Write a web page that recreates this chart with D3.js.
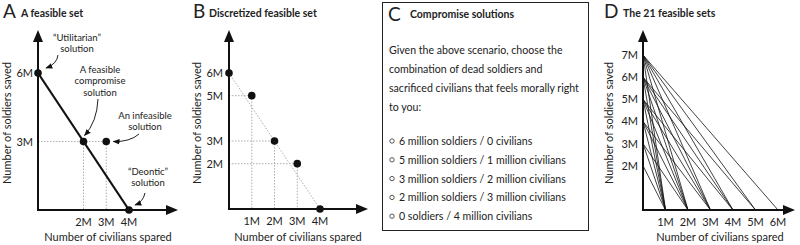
<!DOCTYPE html>
<html><head><meta charset="utf-8">
<script src="https://cdn.jsdelivr.net/npm/d3@7"></script>
<style>
body{margin:0;background:#fff;}
svg text{font-family:Lato,"Open Sans",sans-serif;fill:#222;}
</style></head>
<body><svg id="c" width="800" height="245"></svg>
<script>
// ---- data ----
const panelLetters = ["A","B","C","D"];
const panelTitles = ["A feasible set","Discretized feasible set","Compromise solutions","The 21 feasible sets"];
const xTitle = "Number of civilians spared";
const yTitle = "Number of soldiers saved";
// Panel A: points [civilians, soldiers] in millions
const aFeasibleLine = [[0,6],[4,0]];
const aPoints = [[0,6],[2,3],[3,3],[4,0]];
const aXTicks = [2,3,4];
const aYTicks = [3,6];
const aNotes = [
  {lines:["\u201CUtilitarian\u201D","solution"]},
  {lines:["A feasible","compromise","solution"]},
  {lines:["An infeasible","solution"]},
  {lines:["\u201CDeontic\u201D","solution"]}
];
// Panel B
const bPoints = [[0,6],[1,5],[2,3],[3,2],[4,0]];
const bXTicks = [1,2,3,4];
const bYTicks = [2,3,5,6];
// Panel C
const cIntro = ["Given the above scenario, choose the","combination of dead soldiers and","sacrificed civilians that feels morally right","to you:"];
const cOptions = ["6 million soldiers / 0 civilians","5 million soldiers / 1 million civilians","3 million soldiers / 2 million civilians","2 million soldiers / 3 million civilians","0 soldiers / 4 million civilians"];
// Panel D: soldier intercepts and civilian intercepts (civilians < soldiers)
const dSoldiers = [2,3,4,5,6,7];
const dCivilians = [1,2,3,4,5,6];
const dXTicks = [1,2,3,4,5,6];
const dYTicks = [2,3,4,5,6,7];

const svg = d3.select("#c");
const fmt = d => d + "M";

function arrowAxes(g, x, y, xTip, yTip){
  const x0 = x.range()[0], y0 = y.range()[0];
  g.append("line").attr("x1",x0).attr("y1",y0+1).attr("x2",x0).attr("y2",yTip+8)
    .attr("stroke","#111").attr("stroke-width",2);
  g.append("line").attr("x1",x0-1).attr("y1",y0).attr("x2",xTip-8).attr("y2",y0)
    .attr("stroke","#111").attr("stroke-width",2);
  g.append("path").attr("d",`M${x0},${yTip} L${x0-5},${yTip+12} L${x0+5},${yTip+12}Z`).attr("fill","#111");
  g.append("path").attr("d",`M${xTip},${y0} L${xTip-12},${y0-5} L${xTip-12},${y0+5}Z`).attr("fill","#111");
}
function ticks(g, x, y, xt, yt, yEnd){
  const y0 = y.range()[0], x0 = x.range()[0];
  g.append("g").selectAll("text").data(xt).join("text")
    .attr("x",d=>x(d)).attr("y",y0+16).attr("text-anchor","middle").attr("font-size",11).text(fmt);
  g.append("g").selectAll("text").data(yt).join("text")
    .attr("x",yEnd).attr("y",d=>y(d)+4).attr("text-anchor","end").attr("font-size",11).text(fmt);
}
function titles(g, cx, cy, yx, yy){
  g.append("text").attr("x",cx).attr("y",cy).attr("text-anchor","middle").attr("font-size",11).text(xTitle);
  g.append("text").attr("transform",`translate(${yx},${yy}) rotate(-90)`).attr("text-anchor","middle").attr("font-size",11).text(yTitle);
}
function header(g, letter, title, lx, tx){
  g.append("text").attr("x",lx).attr("y",18).attr("font-size",19).attr("font-family","'Open Sans',sans-serif").text(letter);
  g.append("text").attr("x",tx).attr("y",17).attr("font-size",10.5).attr("font-weight","bold").text(title);
}
svg.append("defs").append("marker").attr("id","ah").attr("viewBox","0 0 10 10").attr("refX",9).attr("refY",5)
  .attr("markerWidth",7).attr("markerHeight",7).attr("orient","auto-start-reverse")
  .append("path").attr("d","M0,1 L10,5 L0,9Z").attr("fill","#111");

// ---- Panel A ----
{
  const g = svg.append("g");
  const x = d3.scaleLinear().domain([0,4]).range([38,129]);
  const y = d3.scaleLinear().domain([0,6]).range([210,73]);
  header(g, panelLetters[0], panelTitles[0], 3, 21);
  // guides
  const comp = aPoints[1], inf = aPoints[2];
  const gd = g.append("g").attr("stroke","#999").attr("stroke-width",0.8).attr("stroke-dasharray","1.5,1.5");
  gd.append("line").attr("x1",x(0)).attr("x2",x(inf[0])).attr("y1",y(comp[1])).attr("y2",y(comp[1]));
  gd.append("line").attr("x1",x(comp[0])).attr("x2",x(comp[0])).attr("y1",y(comp[1])).attr("y2",y(0));
  gd.append("line").attr("x1",x(inf[0])).attr("x2",x(inf[0])).attr("y1",y(inf[1])).attr("y2",y(0));
  arrowAxes(g, x, y, 178, 30);
  g.append("path").datum(aFeasibleLine).attr("d",d3.line().x(d=>x(d[0])).y(d=>y(d[1])))
    .attr("stroke","#111").attr("stroke-width",2.2).attr("fill","none");
  g.append("g").selectAll("circle").data(aPoints).join("circle")
    .attr("cx",d=>x(d[0])).attr("cy",d=>y(d[1])).attr("r",3.8).attr("fill","#111");
  ticks(g, x, y, aXTicks, aYTicks, 33);
  titles(g, 108, 241, 11, 123);
  // annotations
  const notePos = [[77,41],[100,73],[145,119],[148,175]];
  aNotes.forEach((n,i)=>{
    g.append("g").selectAll("text").data(n.lines).join("text")
      .attr("x",notePos[i][0]).attr("y",(d,j)=>notePos[i][1]+j*11.3)
      .attr("text-anchor","middle").attr("font-size",9.5).attr("fill","#333").text(d=>d);
  });
  const arrows = [
    `M58,55 Q57,64 ${x(0)+8},${y(6)-5}`,
    `M98,99 Q97,122 ${x(2)+1},${y(3)-6}`,
    `M139,134 Q130,142 ${x(3)+7},${y(3)}`,
    `M145,193 Q143,202 ${x(4)+6},${y(0)-5}`
  ];
  g.append("g").selectAll("path").data(arrows).join("path").attr("d",d=>d)
    .attr("fill","none").attr("stroke","#222").attr("stroke-width",1).attr("marker-end","url(#ah)");
}
// ---- Panel B ----
{
  const g = svg.append("g");
  const x = d3.scaleLinear().domain([0,4]).range([229,320]);
  const y = d3.scaleLinear().domain([0,6]).range([209,73]);
  header(g, panelLetters[1], panelTitles[1], 193, 209);
  const gd = g.append("g").attr("stroke","#999").attr("stroke-width",0.8).attr("stroke-dasharray","1.5,1.5");
  gd.append("line").attr("x1",x(bPoints[0][0])).attr("y1",y(bPoints[0][1]))
    .attr("x2",x(bPoints[bPoints.length-1][0])).attr("y2",y(bPoints[bPoints.length-1][1]));
  bPoints.slice(1,-1).forEach(p=>{
    gd.append("line").attr("x1",x(0)).attr("x2",x(p[0])).attr("y1",y(p[1])).attr("y2",y(p[1]));
    gd.append("line").attr("x1",x(p[0])).attr("x2",x(p[0])).attr("y1",y(p[1])).attr("y2",y(0));
  });
  arrowAxes(g, x, y, 368, 30);
  g.append("g").selectAll("circle").data(bPoints).join("circle")
    .attr("cx",d=>x(d[0])).attr("cy",d=>y(d[1])).attr("r",3.8).attr("fill","#111");
  ticks(g, x, y, bXTicks, bYTicks, 223);
  titles(g, 298, 241, 201, 123);
}
// ---- Panel C ----
{
  const g = svg.append("g");
  g.append("rect").attr("x",382.5).attr("y",2.5).attr("width",206).attr("height",228)
    .attr("fill","none").attr("stroke","#222").attr("stroke-width",1);
  g.append("text").attr("x",388).attr("y",21).attr("font-size",19).attr("font-family","'Open Sans',sans-serif").text(panelLetters[2]);
  g.append("text").attr("x",410).attr("y",18).attr("font-size",10.5).attr("font-weight","bold").text(panelTitles[2]);
  g.append("g").selectAll("text").data(cIntro).join("text")
    .attr("x",389).attr("y",(d,i)=>54+i*19).attr("font-size",10.6).attr("fill","#333").text(d=>d);
  const og = g.append("g").selectAll("g").data(cOptions).join("g")
    .attr("transform",(d,i)=>`translate(389,${141+i*18.8})`);
  og.append("circle").attr("cx",3).attr("cy",0).attr("r",2.2).attr("fill","none").attr("stroke","#444").attr("stroke-width",0.9);
  og.append("text").attr("x",10).attr("y",4).attr("font-size",10.6).attr("fill","#333").text(d=>d);
}
// ---- Panel D ----
{
  const g = svg.append("g");
  const x = d3.scaleLinear().domain([0,6]).range([643,778]);
  const y = d3.scaleLinear().domain([0,7]).range([210,55]);
  header(g, panelLetters[3], panelTitles[3], 604, 623);
  const sets = [];
  dSoldiers.forEach(s=>dCivilians.forEach(c=>{ if(c < s) sets.push([s,c]); }));
  arrowAxes(g, x, y, 795, 30);
  g.append("g").selectAll("line").data(sets).join("line")
    .attr("x1",x(0)).attr("y1",d=>y(d[0])).attr("x2",d=>x(d[1])).attr("y2",y(0))
    .attr("stroke","#111").attr("stroke-width",0.8);
  ticks(g, x, y, dXTicks, dYTicks, 638);
  titles(g, 720, 241, 613, 123);
}
</script></body></html>
